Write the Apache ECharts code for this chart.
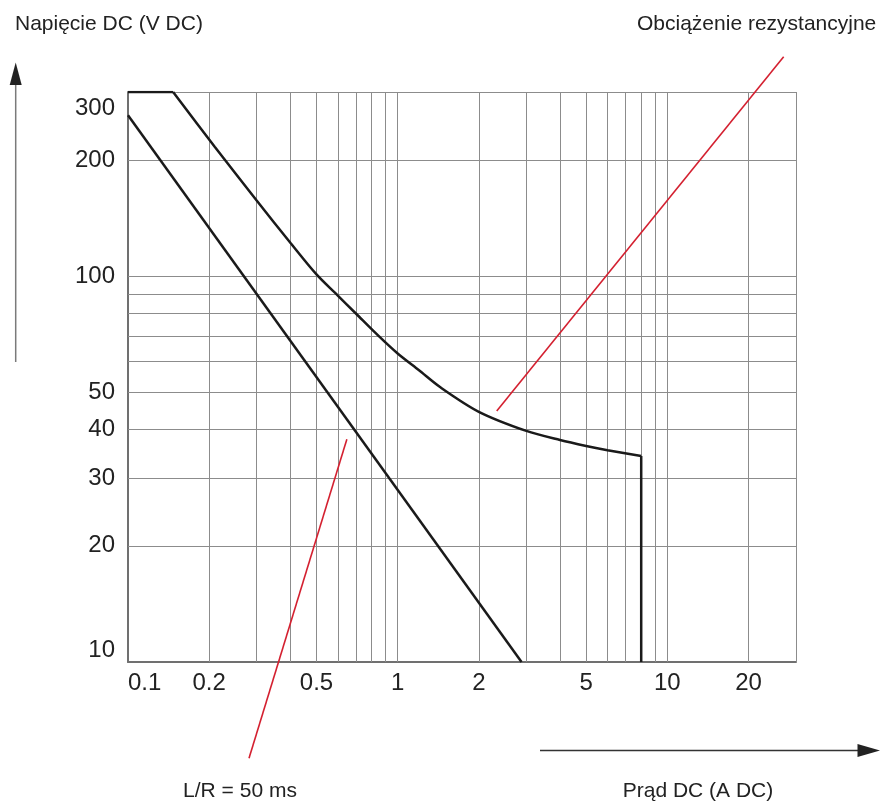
<!DOCTYPE html>
<html>
<head>
<meta charset="utf-8">
<script src="https://cdn.jsdelivr.net/npm/echarts@6/dist/echarts.min.js"></script>
<style>html,body{margin:0;padding:0;background:#fff}#c{width:882px;height:801px}</style>
</head>
<body>
<div id="c"></div>
<script>
// grid line values (A DC / V DC)
const xGridValues = [0.2,0.3,0.4,0.5,0.6,0.7,0.8,0.9,1,2,3,4,5,6,7,8,9,10,20,30];
const yGridValues = [20,30,40,50,60,70,80,90,100,200,300];
// tick labels
const xTickLabels = [0.1,0.2,0.5,1,2,5,10,20];
const yTickLabels = [10,20,30,40,50,100,200,300];
// resistive load curve
const resistiveCurrent = [0.1,0.147,0.21,0.3,0.4,0.5,0.6,0.7,0.84,1.0,1.2,1.44,2.0,3.0,4.0,5.0,6.0,8.0,8.0];
const resistiveVoltage = [300,300,216,157,122,101,89,80,70.5,63,57,51.5,44.5,39.7,37.6,36.3,35.4,34.2,10];
// inductive load curve L/R = 50 ms
const inductiveCurrent = [0.1,2.88];
const inductiveVoltage = [261,10];
// pointer lines (data units)
const pointerInductiveCurrent = [0.281,0.648];
const pointerInductiveVoltage = [5.63,37.8];
const pointerResistiveCurrent = [2.33,27.0];
const pointerResistiveVoltage = [44.7,370];

const zip = (a,b) => a.map((v,i)=>[v,b[i]]);
const resistiveAll = zip(resistiveCurrent, resistiveVoltage);
const nR = resistiveAll.length;
const resistiveFlat = resistiveAll.slice(0,2);
const resistiveBend = resistiveAll.slice(1,nR-1);
const resistiveDrop = resistiveAll.slice(nR-2);

const FONT = "'Liberation Sans', Arial, sans-serif";
const GRID_COLOR = '#8c8c8c';
const HIDDEN = {color:'rgba(0,0,0,0)', width:0};
const labelBase = {show:true, position:'start', color:'#222', fontSize:24, fontFamily:FONT, formatter:'{b}'};

const xLines = [];
xLines.push({xAxis:0.1, name:'0.1', lineStyle:HIDDEN, label:Object.assign({}, labelBase, {distance:9, align:'left'})});
xGridValues.forEach(v=>{
  const lbl = xTickLabels.includes(v);
  xLines.push({xAxis:v, name:String(v), label: lbl ? Object.assign({}, labelBase, {distance:9}) : {show:false}});
});
const yLines = [];
yLines.push({yAxis:10, name:'10', lineStyle:HIDDEN, label:Object.assign({}, labelBase, {distance:13, verticalAlign:'bottom'})});
yGridValues.forEach(v=>{
  const lbl = yTickLabels.includes(v);
  let l = {show:false};
  if (lbl) {
    l = Object.assign({}, labelBase, {distance:13});
    if (v === 300) { l.verticalAlign = 'top'; l.padding = [4,0,0,0]; }
  }
  yLines.push({yAxis:v, name:String(v), label:l});
});

const curveStyle = {color:'#1a1a1a', width:2.5};
const chart = echarts.init(document.getElementById('c'), null, {renderer:'canvas'});
chart.setOption({
  animation:false,
  backgroundColor:'#fff',
  grid:{left:128, top:92, right:86, bottom:139, containLabel:false},
  xAxis:{type:'log', logBase:10, min:0.1, max:30,
    axisLine:{show:true, lineStyle:{color:'#707070', width:2}},
    axisTick:{show:false}, axisLabel:{show:false}, splitLine:{show:false}, minorSplitLine:{show:false}},
  yAxis:{type:'log', logBase:10, min:10, max:300,
    axisLine:{show:true, lineStyle:{color:'#707070', width:2}},
    axisTick:{show:false}, axisLabel:{show:false}, splitLine:{show:false}, minorSplitLine:{show:false}},
  series:[
    {type:'line', name:'grid', data:[], silent:true, z:1,
      markLine:{silent:true, symbol:['none','none'], animation:false,
        lineStyle:{color:GRID_COLOR, width:1, type:'solid'},
        emphasis:{disabled:true},
        data: xLines.concat(yLines)}},
    {type:'line', name:'Obciążenie rezystancyjne', data:resistiveFlat,
      showSymbol:false, silent:true, z:5, lineStyle:curveStyle},
    {type:'line', name:'Obciążenie rezystancyjne', data:resistiveBend, smooth:0.3,
      showSymbol:false, silent:true, z:5, lineStyle:curveStyle},
    {type:'line', name:'Obciążenie rezystancyjne', data:resistiveDrop,
      showSymbol:false, silent:true, z:5, lineStyle:curveStyle},
    {type:'line', name:'L/R = 50 ms', data:zip(inductiveCurrent, inductiveVoltage),
      showSymbol:false, silent:true, z:5, lineStyle:curveStyle},
    {type:'line', name:'pointer1', data:zip(pointerInductiveCurrent, pointerInductiveVoltage),
      clip:false, showSymbol:false, silent:true, z:6, lineStyle:{color:'#d42030', width:1.6}},
    {type:'line', name:'pointer2', data:zip(pointerResistiveCurrent, pointerResistiveVoltage),
      clip:false, showSymbol:false, silent:true, z:6, lineStyle:{color:'#d42030', width:1.6}}
  ],
  graphic:[
    {type:'line', shape:{x1:15.7, y1:362, x2:15.7, y2:84}, style:{stroke:'#7a7a7a', lineWidth:1.5}, silent:true},
    {type:'polygon', shape:{points:[[15.7,62.5],[9.7,85],[21.7,85]]}, style:{fill:'#222'}, silent:true},
    {type:'line', shape:{x1:540, y1:750.5, x2:860, y2:750.5}, style:{stroke:'#333', lineWidth:1.5}, silent:true},
    {type:'polygon', shape:{points:[[880,750.5],[857.5,744],[857.5,757]]}, style:{fill:'#222'}, silent:true},
    {type:'text', x:15, y:24, style:{text:'Napięcie DC (V DC)', font:'21px '+FONT, fill:'#222', verticalAlign:'middle', align:'left'}, silent:true},
    {type:'text', x:637, y:24, style:{text:'Obciążenie rezystancyjne', font:'21px '+FONT, fill:'#222', verticalAlign:'middle', align:'left'}, silent:true},
    {type:'text', x:240, y:791, style:{text:'L/R = 50 ms', font:'21px '+FONT, fill:'#222', verticalAlign:'middle', align:'center'}, silent:true},
    {type:'text', x:698, y:791, style:{text:'Prąd DC (A DC)', font:'21px '+FONT, fill:'#222', verticalAlign:'middle', align:'center'}, silent:true}
  ]
});
</script>
</body>
</html>
